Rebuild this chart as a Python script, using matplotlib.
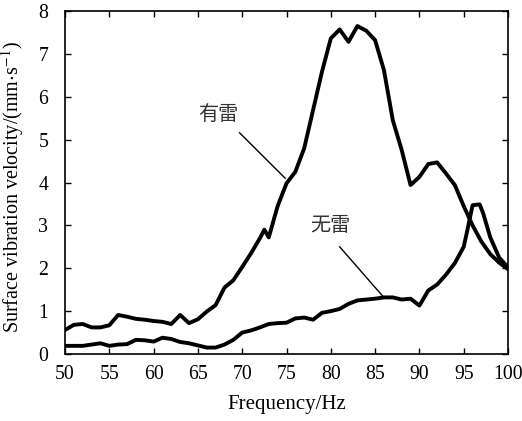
import matplotlib
matplotlib.use("Agg")
import matplotlib.pyplot as plt

plt.rcParams['font.family'] = ['Liberation Serif', 'Noto Sans CJK SC']
plt.rcParams['mathtext.fontset'] = 'stix'

# 有雷 (with mine)
freq_mine = [50, 51, 52, 53, 54, 55, 56, 57, 58, 59, 60, 61, 62, 63, 64, 65, 66, 67, 68, 69,
             70, 71, 72, 72.5, 73, 74, 75, 76, 77, 78, 79, 80, 81, 82, 83, 84, 85, 86, 87, 88,
             89, 90, 91, 92, 93, 94, 95, 96, 97, 98, 99, 100]
vel_mine = [0.56, 0.68, 0.70, 0.62, 0.62, 0.67, 0.91, 0.87, 0.82, 0.80, 0.77, 0.75, 0.70, 0.91, 0.72,
            0.81, 0.99, 1.14, 1.55, 1.72, 2.03, 2.35, 2.70, 2.90, 2.72, 3.45, 3.98, 4.25, 4.80, 5.69,
            6.58, 7.36, 7.57, 7.28, 7.65, 7.54, 7.32, 6.62, 5.45, 4.76, 3.94, 4.13, 4.43, 4.47, 4.21,
            3.94, 3.45, 3.00, 2.62, 2.33, 2.13, 1.98]

# 无雷 (without mine)
freq_none = [50, 51, 52, 53, 54, 55, 56, 57, 58, 59, 60, 61, 62, 63, 64, 65, 66, 67, 68, 69,
             70, 71, 72, 73, 74, 75, 76, 77, 78, 79, 80, 81, 82, 83, 84, 85, 86, 87, 88, 89,
             90, 91, 92, 93, 94, 95, 95.5, 96, 96.8, 97.2, 98, 99, 100]
vel_none = [0.19, 0.19, 0.19, 0.22, 0.25, 0.19, 0.22, 0.23, 0.33, 0.32, 0.29, 0.38, 0.35, 0.28, 0.25,
            0.20, 0.15, 0.15, 0.22, 0.33, 0.50, 0.55, 0.62, 0.70, 0.72, 0.73, 0.83, 0.85, 0.80, 0.96,
            1.00, 1.05, 1.17, 1.25, 1.27, 1.29, 1.32, 1.32, 1.27, 1.29, 1.13, 1.48, 1.62, 1.85, 2.12,
            2.50, 2.97, 3.47, 3.49, 3.28, 2.72, 2.25, 2.02]

fig = plt.figure(figsize=(5.22, 4.21), dpi=100)
ax = fig.add_axes([65/522, 67/421, 443/522, 343/421])

ax.plot(freq_mine, vel_mine, color='black', lw=2.8)
ax.plot(freq_none, vel_none, color='black', lw=2.8)

ax.set_xlim(50, 100)
ax.set_ylim(0, 8)
ax.set_xticks(range(50, 101, 5))
ax.set_yticks(range(0, 9))
ax.tick_params(direction='in', top=True, right=True, length=4, width=1,
               labelsize=14.2)
ax.tick_params(axis='x', pad=8)
ax.tick_params(axis='y', pad=12)
for s in ax.spines.values():
    s.set_linewidth(1.2)

ax.set_xlabel('Frequency/Hz', fontsize=15, labelpad=8)
ax.set_ylabel(r'Surface vibration velocity/(mm$\cdot$s$^{-1}$)', fontsize=14.5)
ax.yaxis.set_label_coords(-0.088, 0.487)

# annotations
ax.text(67.3, 5.57, '有雷', fontsize=14.5, ha='center', va='center', color='#333333')
ax.plot([69.7, 74.85], [5.16, 4.10], color='black', lw=1)
ax.text(79.9, 2.97, '无雷', fontsize=14.5, ha='center', va='center', color='#333333')
ax.plot([81.0, 85.9], [2.50, 1.34], color='black', lw=1)

fig.savefig('out.png', dpi=100)
